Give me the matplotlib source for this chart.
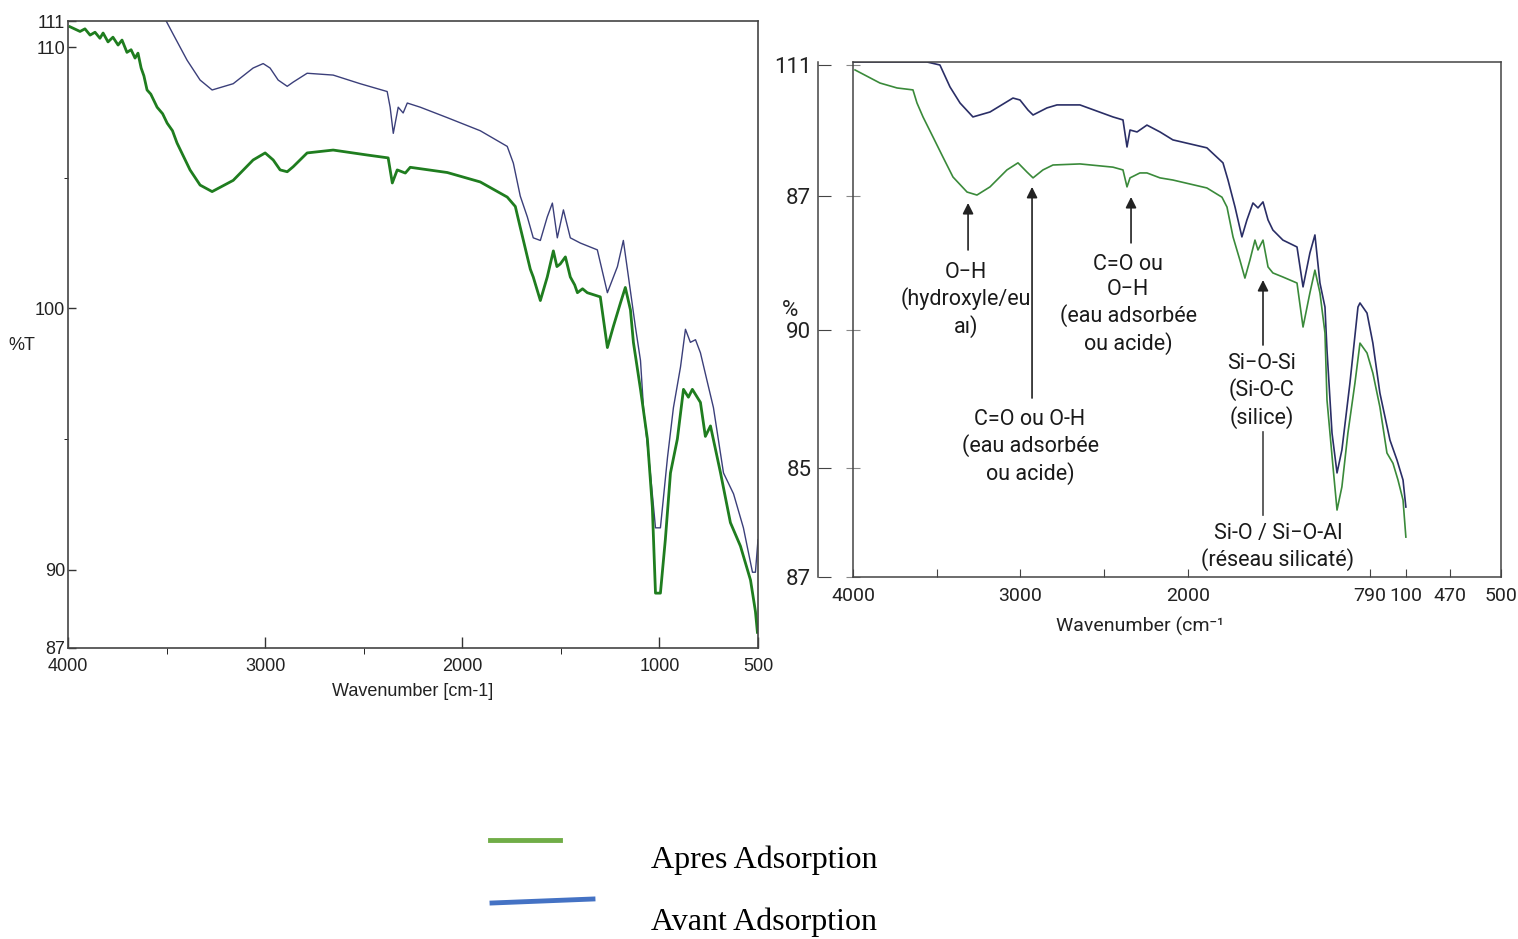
import matplotlib
matplotlib.use("Agg")
import matplotlib.pyplot as plt
from matplotlib.lines import Line2D

LEFT_FONT = ["Liberation Sans", "DejaVu Sans"]
RIGHT_FONT = ["Roboto", "DejaVu Sans"]
plt.rcParams["font.family"] = LEFT_FONT

# ---------------- left panel data (wavenumber, %T) ----------------
left_wn_apres = [3990, 3939, 3914, 3888, 3863, 3838, 3822, 3797, 3772, 3746, 3726, 3701,
                 3680, 3660, 3645, 3629, 3615, 3599, 3580, 3548, 3520, 3497, 3470, 3447,
                 3381, 3330, 3269, 3162, 3061, 3000, 2959, 2924, 2888, 2858, 2787, 2655,
                 2482, 2376, 2355, 2330, 2289, 2264, 2076, 1909, 1772, 1731, 1706, 1690,
                 1670, 1655, 1640, 1604, 1569, 1538, 1520, 1503, 1477, 1452, 1430, 1416,
                 1390, 1366, 1300, 1264, 1234, 1198, 1173, 1147, 1132, 1096, 1061, 1036,
                 1020, 995, 970, 944, 909, 878, 853, 833, 792, 767, 741, 690, 640, 589,
                 538, 513, 503]
left_t_apres = [110.78, 110.6, 110.7, 110.46, 110.57, 110.34, 110.54, 110.2, 110.38, 110.08,
                110.27, 109.8, 109.9, 109.58, 109.77, 109.2, 108.9, 108.36, 108.2, 107.7,
                107.45, 107.09, 106.8, 106.33, 105.3, 104.72, 104.47, 104.9, 105.68,
                105.95, 105.68, 105.3, 105.23, 105.42, 105.95, 106.06, 105.87, 105.76,
                104.8, 105.3, 105.18, 105.4, 105.2, 104.84, 104.26, 103.9, 103.1, 102.6,
                101.97, 101.5, 101.2, 100.3, 101.2, 102.2, 101.6, 101.7, 101.97, 101.2,
                100.9, 100.6, 100.75, 100.6, 100.44, 98.5, 99.3, 100.2, 100.8, 99.94,
                98.7, 96.9, 95.0, 92.4, 89.1, 89.1, 91.15, 93.7, 95.0, 96.9, 96.6, 96.9,
                96.4, 95.1, 95.5, 93.7, 91.8, 90.9, 89.6, 88.4, 87.6]

left_wn_avant = [4000, 3700, 3530, 3467, 3396, 3330, 3269, 3162, 3061, 3010, 2975, 2934,
                 2888, 2858, 2787, 2655, 2518, 2381, 2366, 2350, 2325, 2300, 2279, 2213,
                 2076, 1909, 1772, 1741, 1706, 1670, 1640, 1604, 1569, 1543, 1518, 1487,
                 1452, 1401, 1315, 1264, 1213, 1183, 1157, 1122, 1096, 1081, 1046, 1020,
                 995, 959, 929, 893, 868, 843, 817, 792, 756, 726, 675, 624, 574, 528,
                 513, 500]
left_t_avant = [113.2, 112.0, 111.4, 110.5, 109.5, 108.74, 108.36, 108.6, 109.2, 109.37,
                109.2, 108.74, 108.5, 108.66, 109.0, 108.93, 108.6, 108.3, 107.7, 106.7,
                107.7, 107.48, 107.86, 107.7, 107.3, 106.8, 106.2, 105.56, 104.3, 103.5,
                102.7, 102.6, 103.5, 104.03, 102.7, 103.77, 102.7, 102.5, 102.24, 100.6,
                101.6, 102.6, 101.2, 99.3, 98.0, 96.2, 93.7, 91.6, 91.6, 94.3, 96.2,
                97.76, 99.2, 98.7, 98.8, 98.3, 97.15, 96.2, 93.7, 92.9, 91.6, 89.9,
                89.9, 91.15]

# ---------------- right panel data (wavenumber, axis units) ----------------
right_wn_apres = [3988, 3839, 3737, 3642, 3618, 3582, 3522, 3463, 3403, 3319, 3260, 3182,
                  3081, 3015, 2961, 2925, 2866, 2806, 2645, 2448, 2388, 2364, 2346, 2287,
                  2245, 2167, 2090, 1887, 1797, 1767, 1731, 1690, 1660, 1630, 1600, 1582,
                  1552, 1522, 1493, 1433, 1349, 1313, 1272, 1242, 1212, 1182, 1170, 1134,
                  1110, 1081, 1045, 1003, 973, 931, 896, 854, 812, 776, 746, 716, 699]
right_t_apres = [110.63, 110.02, 109.79, 109.7, 109.09, 108.44, 107.5, 106.57, 105.64,
                 104.94, 104.8, 105.18, 105.97, 106.3, 105.87, 105.6, 105.97, 106.2,
                 106.25, 106.1, 105.97, 105.18, 105.6, 105.83, 105.83, 105.6, 105.5,
                 105.13, 104.7, 104.24, 102.85, 101.77, 100.93, 101.77, 102.7, 102.24,
                 102.7, 101.45, 101.17, 100.98, 100.7, 98.65, 100.24, 101.3, 100.24,
                 98.37, 95.25, 92.13, 90.12, 91.2, 93.71, 96.04, 97.9, 97.44, 96.5,
                 94.92, 92.78, 92.3, 91.52, 90.59, 88.86]

right_wn_avant = [4000, 3558, 3481, 3421, 3361, 3284, 3182, 3045, 3003, 2955, 2925, 2842,
                  2782, 2645, 2448, 2388, 2364, 2346, 2304, 2245, 2167, 2090, 1887, 1791,
                  1761, 1719, 1678, 1648, 1612, 1582, 1552, 1522, 1493, 1433, 1349, 1313,
                  1272, 1242, 1212, 1182, 1170, 1140, 1110, 1081, 1033, 985, 973, 931,
                  896, 854, 794, 752, 716, 699]
right_t_avant = [111.0, 111.0, 110.86, 109.84, 109.09, 108.44, 108.67, 109.32, 109.23,
                 108.76, 108.53, 108.86, 109.0, 109.0, 108.44, 108.3, 107.04, 107.83,
                 107.74, 108.06, 107.74, 107.37, 107.0, 106.3, 105.5, 104.24, 102.85,
                 103.64, 104.43, 104.2, 104.48, 103.64, 103.17, 102.7, 102.38, 100.52,
                 102.1, 102.94, 100.7, 99.58, 97.58, 93.71, 91.85, 92.92, 96.04, 99.58,
                 99.77, 99.3, 97.9, 95.57, 93.38, 92.45, 91.52, 90.26]

left_yticks = [111, 110, 100, 90, 87]
left_xticks = [4000, 3000, 2000, 1000, 500]
right_ytick_pos = [110.86, 104.76, 98.51, 92.08, 87.0]
right_ytick_labels = ["111", "87", "90", "85", "87"]
right_xtick_pos = [4000, 3500, 3000, 2500, 2000, 913, 698, 436, 131]
right_xtick_labels = ["4000", "", "3000", "", "2000", "790", "100", "470", "500"]

# annotations: (text, text_x, text_y, line_from_y, line_to_y, line_x, with_head)
annotations = [
    ("O\u2212H\n(hydroxyle/eu\na\u0131)", 3325, 99.91, 102.24, 104.43, 3313, True),
    ("C=O ou O-H\n(eau adsorb\u00e9e\nou acide)", 2943, 93.06, 95.34, 105.18, 2931, True),
    ("C=O ou\nO\u2212H\n(eau adsorb\u00e9e\nou acide)", 2358, 99.72, 102.57, 104.71, 2340, True),
    ("Si\u2212O-Si\n(Si-O-C\n(silice)", 1558, 95.67, 97.81, 100.84, 1552, True),
    ("Si-O / Si\u2212O-Al\n(r\u00e9seau silicat\u00e9)", 1463, 88.4, 89.89, 93.76, 1552, False),
]

fig = plt.figure(figsize=(15.18, 9.39), dpi=100)

# ---------------- left panel ----------------
axl = fig.add_axes([68 / 1518, 1 - 648 / 939, 690 / 1518, 627 / 939])
axl.plot(left_wn_avant, left_t_avant, color="#3b3f7a", lw=1.0)
axl.plot(left_wn_apres, left_t_apres, color="#1f7d1f", lw=2.0)
axl.set_xlim(4000, 500)
axl.set_ylim(87, 111)
axl.set_yticks(left_yticks)
axl.set_yticks([105, 95], minor=True)
axl.set_xticks(left_xticks)
axl.set_xticks([3500, 2500, 1500], minor=True)
axl.tick_params(direction="in", labelsize=13, colors="#333333", labelcolor="#222222",
                width=1.0)
axl.tick_params(axis="x", which="major", length=8, pad=7)
axl.tick_params(axis="x", which="minor", length=4)
axl.tick_params(axis="y", which="major", length=6, pad=2)
axl.tick_params(axis="y", which="minor", length=3)
for s in axl.spines.values():
    s.set_color("#444444")
    s.set_linewidth(1.2)
fig.text(22 / 1518, 1 - 345 / 939, "%T", fontsize=13, ha="center", va="center",
         color="#222222")
fig.text(413 / 1518, 1 - 692 / 939, "Wavenumber [cm-1]", fontsize=13, ha="center",
         va="center", color="#222222")

# ---------------- right panel ----------------
axr = fig.add_axes([853 / 1518, 1 - 577 / 939, 648 / 1518, 515 / 939])
axr.plot(right_wn_avant, right_t_avant, color="#2a2e66", lw=1.2)
axr.plot(right_wn_apres, right_t_apres, color="#3a8a3a", lw=1.2)
axr.set_xlim(4000, 131)
axr.set_ylim(87, 111)
axr.spines["left"].set_position(("outward", 25))
axr.set_yticks(right_ytick_pos)
axr.set_yticklabels(right_ytick_labels, family=RIGHT_FONT)
axr.set_xticks(right_xtick_pos)
axr.set_xticklabels(right_xtick_labels, family=RIGHT_FONT)
axr.tick_params(axis="y", direction="in", length=9, labelsize=16, pad=5,
                colors="#444444", labelcolor="#222222")
axr.tick_params(axis="x", direction="in", length=6, labelsize=14, pad=7,
                colors="#444444", labelcolor="#222222")
for s in axr.spines.values():
    s.set_color("#444444")
    s.set_linewidth(1.1)
sec = axr.secondary_yaxis(0)
sec.set_yticks(right_ytick_pos)
sec.set_yticklabels([])
sec.tick_params(direction="inout", length=10, colors="#888888")
sec.spines["left"].set_color("#444444")
sec.spines["left"].set_linewidth(1.1)

fig.text(790 / 1518, 1 - 310 / 939, "%", fontsize=16, ha="center", va="center",
         color="#222222", family=RIGHT_FONT)
fig.text(1140 / 1518, 1 - 626 / 939, "Wavenumber (cm\u207b\u00b9", fontsize=14,
         ha="center", va="center", color="#222222", family=RIGHT_FONT)

for text, tx, ty, y0, y1, line_x, head in annotations:
    axr.text(tx, ty, text, ha="center", va="center", fontsize=15.5, linespacing=1.25,
             color="#1a1a1a", family=RIGHT_FONT)
    if head:
        axr.annotate("", xy=(line_x, y1), xytext=(line_x, y0),
                     arrowprops=dict(arrowstyle="-|>", color="#222222", lw=1.2,
                                     mutation_scale=16, shrinkA=0, shrinkB=0))
    else:
        axr.plot([line_x, line_x], [y0, y1], color="#444444", lw=1.2)

# ---------------- legend ----------------
fig.add_artist(Line2D([490 / 1518, 560 / 1518], [1 - 840 / 939, 1 - 840 / 939],
                      color="#70ad47", lw=3.5))
fig.add_artist(Line2D([492 / 1518, 593 / 1518], [1 - 903 / 939, 1 - 899 / 939],
                      color="#4472c4", lw=3.5))
fig.text(651 / 1518, 1 - 860 / 939, "Apres Adsorption", fontsize=23,
         family=["Liberation Serif", "DejaVu Serif"], ha="left", va="center")
fig.text(651 / 1518, 1 - 922 / 939, "Avant Adsorption", fontsize=23,
         family=["Liberation Serif", "DejaVu Serif"], ha="left", va="center")

fig.savefig("out.png", dpi=100)
